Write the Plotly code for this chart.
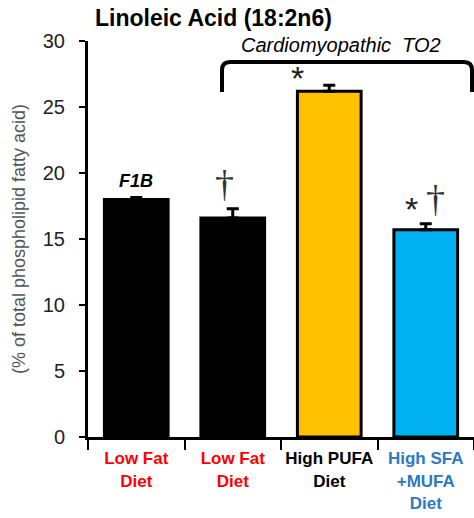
import plotly.graph_objects as go

# ---- data ----
groups = ["F1B Low Fat", "TO2 Low Fat", "TO2 High PUFA", "TO2 High SFA+MUFA"]
values = [18.0, 16.6, 26.2, 15.7]
errors = [0.15, 0.7, 0.45, 0.45]
tick_labels = ["Low Fat<br>Diet", "Low Fat<br>Diet", "High PUFA<br>Diet", "High SFA<br>+MUFA<br>Diet"]
label_colors = ["#ff0000", "#ff0000", "#000000", "#2f78c4"]
bar_colors = ["#000000", "#000000", "#FFC000", "#00B0F0"]
y_ticks = [0, 5, 10, 15, 20, 25, 30]

W, H = 474, 518
L, R, T, B = 88, 0, 41, 81

fig = go.Figure()
fig.add_trace(go.Bar(
    x=groups, y=values, width=0.66,
    marker=dict(color=bar_colors, line=dict(color="black", width=3)),
    error_y=dict(type="data", array=errors, arrayminus=[0] * len(values), symmetric=False,
                 color="black", thickness=3, width=6),
    showlegend=False,
))

ticktext = [f"<span style='color:{c}'><b>{t}</b></span>" for t, c in zip(tick_labels, label_colors)]

fig.update_layout(
    width=W, height=H,
    margin=dict(l=L, r=R, t=T, b=B, autoexpand=False),
    plot_bgcolor="white", paper_bgcolor="white",
    font=dict(family="Liberation Sans, Arial, sans-serif"),
    title=dict(text="<b>Linoleic Acid (18:2n6)</b>", x=95 / W, xanchor="left",
               y=1 - 18 / H, yanchor="middle", xref="container", yref="container",
               font=dict(size=23, color="black")),
)

fig.update_xaxes(
    range=[-0.5, 3.5], tickmode="array", tickvals=groups, ticktext=ticktext, tickangle=0,
    tickson="boundaries", ticks="outside", ticklen=10, tickwidth=2, tickcolor="black",
    showline=True, linecolor="black", linewidth=3, ticklabelstandoff=4,
    tickfont=dict(size=17, color="black"), showgrid=False, zeroline=False,
)
fig.update_yaxes(
    range=[0, 30], tickvals=y_ticks, ticks="outside", ticklen=6, tickwidth=2, tickcolor="black",
    showline=True, linecolor="black", linewidth=3,
    tickfont=dict(size=20, color="#222222"), ticklabelstandoff=10,
    showgrid=False, zeroline=False,
    title=dict(text="(% of total phospholipid fatty acid)", font=dict(size=18, color="#555555"),
               standoff=13),
)

# annotations above bars
def top(i):
    return values[i] + errors[i]

fig.add_annotation(x=groups[0], y=top(0), text="<b><i>F1B</i></b>", showarrow=False,
                   yanchor="bottom", yshift=4, font=dict(size=18, color="black"))
fig.add_annotation(x=groups[1], y=top(1), text="†", showarrow=False, xshift=-8,
                   yanchor="bottom", yshift=2, font=dict(size=38, color="#333333",
                                                          family="Liberation Serif, serif"))
fig.add_annotation(x=groups[2], y=top(2), text="*", showarrow=False, xshift=-32,
                   yanchor="bottom", yshift=-14, font=dict(size=34, color="#222222"))
fig.add_annotation(x=groups[3], y=top(3), text="*", showarrow=False, xshift=-14,
                   yanchor="bottom", yshift=-6, font=dict(size=34, color="#222222"))
fig.add_annotation(x=groups[3], y=top(3), text="†", showarrow=False, xshift=10,
                   yanchor="bottom", yshift=2, font=dict(size=38, color="#333333",
                                                         family="Liberation Serif, serif"))

# bracket over TO2 groups (paper coords)
pw, ph = W - L - R, H - T - B
def px(x): return (x - L) / pw
def py(y): return (H - B - y) / ph
x0, x1, yh, yb = px(222), px(472), py(62), py(92)
rx, ry = 8 / pw, 8 / ph
path = (f"M {x0},{yb} L {x0},{yh - ry} Q {x0},{yh} {x0 + rx},{yh} "
        f"L {x1 - rx},{yh} Q {x1},{yh} {x1},{yh - ry} L {x1},{yb}")
fig.add_shape(type="path", path=path, xref="paper", yref="paper",
              line=dict(color="black", width=4))
fig.add_annotation(x=px(341), y=py(45), xref="paper", yref="paper", yanchor="middle",
                   xanchor="center", text="<i>Cardiomyopathic\u00a0 TO2</i>", showarrow=False,
                   font=dict(size=20, color="black"))

fig.write_html("out.html", config={"displayModeBar": False},
               post_script="document.body.style.margin='0';")
